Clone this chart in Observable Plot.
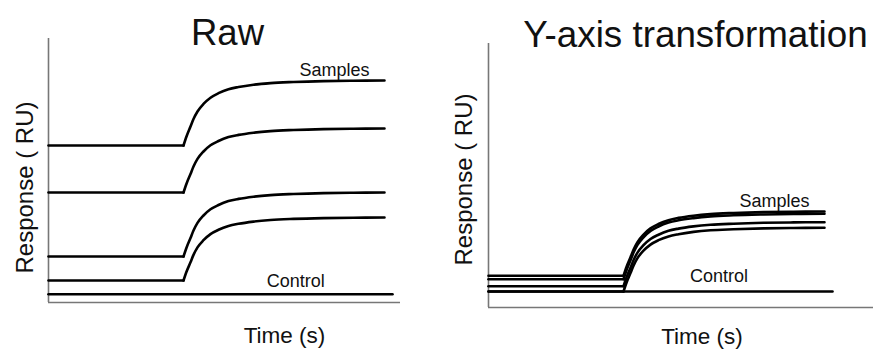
<!DOCTYPE html>
<html><head><meta charset="utf-8">
<script src="https://cdn.jsdelivr.net/npm/d3@7"></script>
<script src="https://cdn.jsdelivr.net/npm/@observablehq/plot@0.6"></script>
<style>
body{margin:0;background:#fff;}
#wrap{position:relative;width:873px;height:349px;overflow:hidden;background:#fff;}
#wrap > div{position:absolute;top:0;}
svg{overflow:visible;}
</style></head><body>
<div id="wrap"><div id="left" style="left:0px"></div><div id="right" style="left:440px"></div></div>
<script>
// ---- labels ----
const panelTitles = ["Raw", "Y-axis transformation"];
const xLabel = "Time (s)";
const yLabel = "Response ( RU)";
const samplesLabel = "Samples";
const controlLabel = "Control";

// ---- data (time in s, response in RU) ----
const time = [0, 135, 138, 142, 145, 149, 155, 162, 170, 180, 190, 205, 222, 245, 275, 305, 336];
const injectionTime = 135;

const rawSample1 = [157, 157, 166, 176, 183.5, 191, 198.6, 204.8, 209.3, 213.3, 215.5, 217.8, 219.4, 220.5, 221.4, 221.8, 222];
const rawSample2 = [110, 110, 118.8, 128.5, 136, 143.6, 151, 157.2, 161.5, 165.4, 167.6, 169.8, 171.4, 172.5, 173.4, 173.8, 174];
const rawSample3 = [46, 46, 54.8, 64.5, 72, 79.6, 87, 93.2, 97.5, 101.4, 103.6, 105.8, 107.4, 108.5, 109.4, 109.8, 110];
const rawSample4 = [22, 22, 30.7, 40.2, 47.6, 55.1, 62.3, 68.4, 72.7, 76.5, 78.7, 80.9, 82.5, 83.6, 84.4, 84.8, 85];

const trSample1 = [31.7, 31.7, 40.6, 50.3, 57.8, 65.4, 72.9, 79.1, 83.5, 87.3, 89.6, 91.8, 93.4, 94.5, 95.4, 95.8, 96];
const trSample2 = [28.3, 28.3, 37.3, 47.2, 54.9, 62.6, 70.2, 76.5, 81, 84.9, 87.2, 89.4, 91.1, 92.2, 93, 93.5, 93.7];
const trSample3 = [21.3, 21.3, 30.1, 39.8, 47.3, 54.9, 62.3, 68.5, 72.8, 76.7, 78.9, 81.1, 82.7, 83.8, 84.7, 85.1, 85.3];
const trSample4 = [16, 16, 24.8, 34.4, 41.9, 49.4, 56.8, 62.9, 67.3, 71.1, 73.3, 75.6, 77.2, 78.2, 79.1, 79.5, 79.7];

const controlTime = [0, 344];
const rawControl = [8.3, 8.3];
const trControl = [16, 16];

// ---- helpers ----
const FONT = "'Liberation Sans', Arial, Helvetica, sans-serif";
function rows(values, series, t = time) {
  return t.map((tt, i) => ({t: tt, ru: values[i], series}));
}

function panel({samples, control, xMax, width, height, marginLeft, marginTop, marginBottom, marginRight, yMax,
                title, titleSize, titleAt, samplesAt, controlAt, xLabelAt, yLabelAt}) {
  const sampleRows = samples.flatMap((v, i) => rows(v, "s" + i));
  const controlRows = rows(control, "control", controlTime);
  const lineStyle = {x: "t", y: "ru", z: "series", stroke: "#000", strokeWidth: 2.6, strokeLinecap: "round", strokeLinejoin: "round"};
  const axisStyle = {stroke: "#777", strokeWidth: 1.6};
  return Plot.plot({
    width, height, marginLeft, marginTop, marginBottom, marginRight,
    style: {fontFamily: FONT, background: "transparent", overflow: "visible"},
    x: {domain: [0, xMax], axis: null},
    y: {domain: [0, yMax], axis: null},
    marks: [
      Plot.ruleX([0], axisStyle),
      Plot.ruleY([0], axisStyle),
      Plot.line(sampleRows.filter(d => d.t <= injectionTime), lineStyle),
      Plot.line(sampleRows.filter(d => d.t >= injectionTime), {...lineStyle, curve: "monotone-x"}),
      Plot.line(controlRows, lineStyle),
      Plot.text([title], {x: titleAt[0], y: titleAt[1], text: d => d, fontSize: titleSize, fill: "#111"}),
      Plot.text([samplesLabel], {x: samplesAt[0], y: samplesAt[1], text: d => d, fontSize: 18, fill: "#111"}),
      Plot.text([controlLabel], {x: controlAt[0], y: controlAt[1], text: d => d, fontSize: 18, fill: "#111"}),
      Plot.text([xLabel], {x: xLabelAt[0], y: xLabelAt[1], text: d => d, fontSize: 22.5, fill: "#111"}),
      Plot.text([yLabel], {x: yLabelAt[0], y: yLabelAt[1], text: d => d, fontSize: 24, rotate: -90, fill: "#111"})
    ]
  });
}

document.getElementById("left").append(panel({
  samples: [rawSample1, rawSample2, rawSample3, rawSample4],
  control: rawControl,
  xMax: 352, yMax: 264,
  width: 440, height: 349, marginLeft: 48, marginTop: 38, marginBottom: 47, marginRight: 40,
  title: panelTitles[0], titleSize: 36.5, titleAt: [179, 269.5],
  samplesAt: [286, 232.4], controlAt: [247.3, 21.1],
  xLabelAt: [236, -33], yLabelAt: [-23.4, 115]
}));

document.getElementById("right").append(panel({
  samples: [trSample1, trSample2, trSample3, trSample4],
  control: trControl,
  xMax: 385, yMax: 264,
  width: 433, height: 349, marginLeft: 48, marginTop: 43, marginBottom: 42, marginRight: 0,
  title: panelTitles[1], titleSize: 36.8, titleAt: [207, 272.5],
  samplesAt: [286, 106.1], controlAt: [230.4, 31.1],
  xLabelAt: [213.5, -29], yLabelAt: [-23.7, 128]
}));
</script>
</body></html>
